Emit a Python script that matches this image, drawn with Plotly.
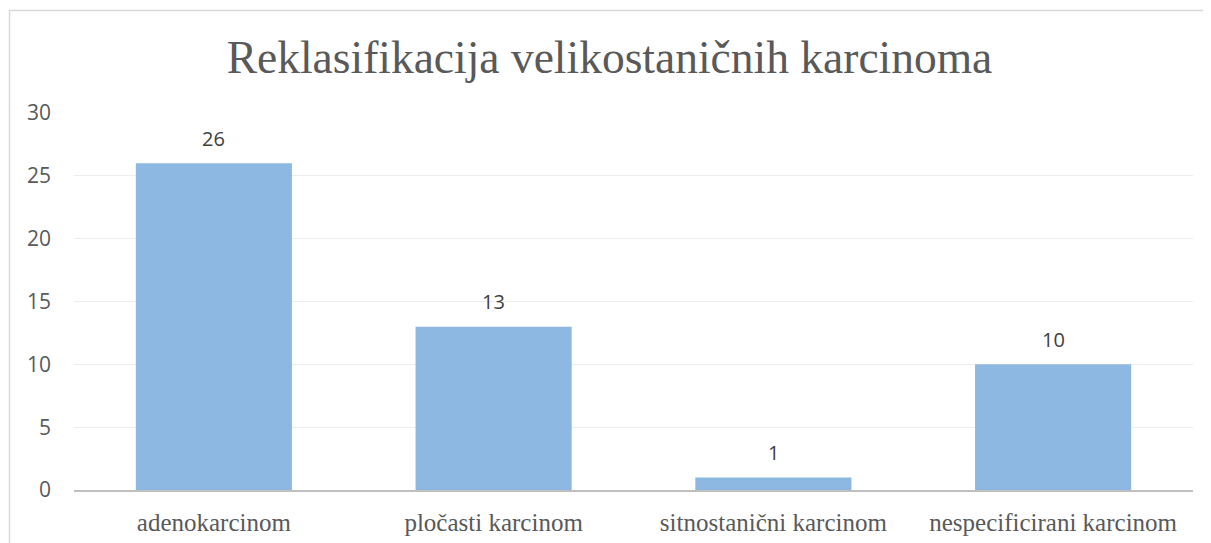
import plotly.graph_objects as go

categories = ["adenokarcinom", "pločasti karcinom", "sitnostanični karcinom", "nespecificirani karcinom"]
values = [26, 13, 1, 10]
y_ticks = [0, 5, 10, 15, 20, 25, 30]
title_text = "Reklasifikacija velikostaničnih karcinoma"

OFF = 8  # page body margin
W, H = 1211 - OFF, 543 - OFF
L, R, T, B = 74 - OFF, 18, 113 - OFF, 53
pw, ph = W - L - R, H - T - B

SERIF = "Liberation Serif, serif"
SANS = "Open Sans, sans-serif"

fig = go.Figure()
fig.add_trace(go.Bar(
    x=categories, y=values,
    marker=dict(color="#8CB8E2", line=dict(width=0)),
    width=0.558,
    hoverinfo="x+y",
))

for c, v in zip(categories, values):
    fig.add_annotation(x=c, y=v, text=str(v), showarrow=False, yshift=25,
                       font=dict(family=SANS, size=20, color="#404040"))

def px_x(x):
    return (x - OFF - L) / pw

def px_y(y):
    return (H - B + OFF - y) / ph

fig.add_shape(type="rect", xref="paper", yref="paper",
              x0=px_x(9.5), x1=px_x(1230), y0=px_y(560), y1=px_y(10.5),
              line=dict(color="#D9D9D9", width=1.5), fillcolor="rgba(0,0,0,0)", layer="below")

fig.update_layout(
    width=W, height=H,
    margin=dict(l=L, r=R, t=T, b=B, pad=0, autoexpand=False),
    paper_bgcolor="white", plot_bgcolor="white",
    title=dict(text=title_text, x=0.5, xanchor="center", y=1 - (57 - OFF) / H, yanchor="middle",
               font=dict(family=SERIF, size=45.5, color="#595959")),
    showlegend=False,
    bargap=0.442,
    xaxis=dict(showgrid=False, showline=True, linecolor="#BFBFBF", linewidth=2,
               ticks="", ticklabelstandoff=9, automargin=False,
               tickfont=dict(family=SERIF, size=25, color="#595959")),
    yaxis=dict(range=[0, 30], tickvals=y_ticks, showgrid=True, gridcolor="#EDEDED", gridwidth=1,
               zeroline=False, showline=False, ticks="", ticklabelstandoff=22, automargin=False,
               tickfont=dict(family=SANS, size=21, color="#595959")),
)

fig.write_html("out.html")
